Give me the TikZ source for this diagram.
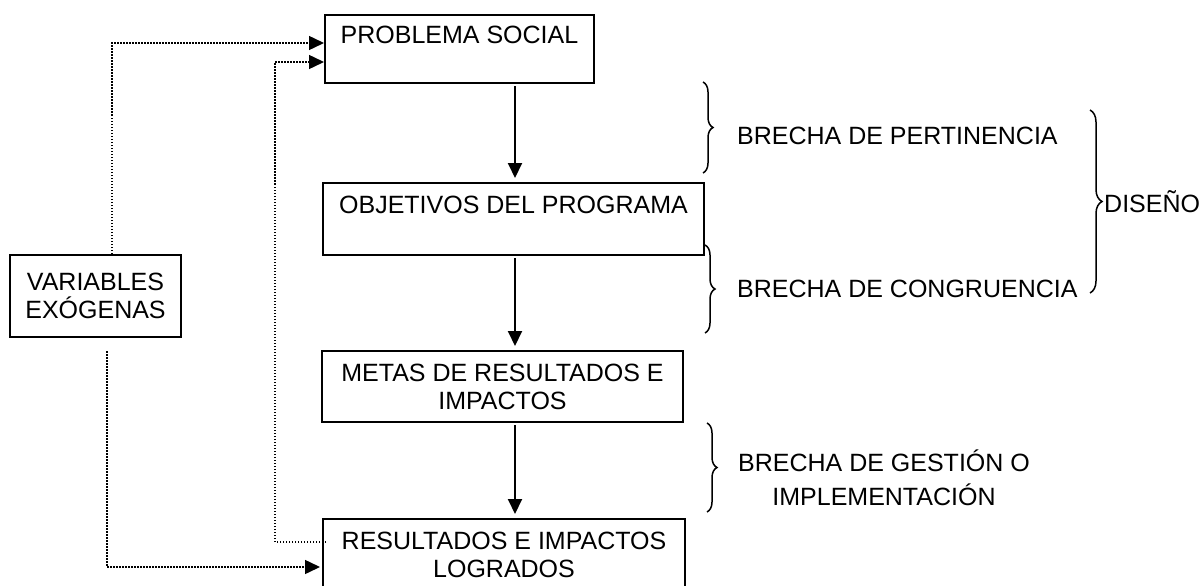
\documentclass[tikz,border=0pt]{standalone}
\usepackage{fontspec}
\setmainfont{Liberation Sans}
\usetikzlibrary{arrows.meta, decorations.pathreplacing, calc}

\begin{document}
\begin{tikzpicture}[x=1pt, y=-1pt, font=\fontsize{25}{28}\selectfont,
	caja/.style={draw, line width=2pt, inner sep=0pt, align=center},
	flecha/.style={line width=2pt, -{Triangle[width=14pt,length=15pt]}, shorten >=4pt, shorten <=2pt},
	punteada/.style={line width=1.5pt, dash pattern=on 1.5pt off 1.5pt, -{Triangle[width=14pt,length=15pt]}},
	llave/.style={line width=1.5pt, decorate, decoration={brace, amplitude=10pt}},
	etiqueta/.style={inner sep=0pt, anchor=base west}]
				  \clip (0,0) rectangle (1202,586);
				  \node[caja, minimum width=269pt, minimum height=68pt] (problema) at (459.5,49) {PROBLEMA SOCIAL\\\mbox{}};
				  \node[caja, minimum width=381pt, minimum height=72pt] (objetivos) at (513.5,219) {OBJETIVOS DEL PROGRAMA\\\mbox{}};
				  \node[caja, minimum width=361pt, minimum height=71pt] (metas) at (502.5,386.5) {METAS DE RESULTADOS E\\IMPACTOS};
				  \node[caja, minimum width=362pt, minimum height=71pt] (logros) at (504,554.5) {RESULTADOS E IMPACTOS\\LOGRADOS};
				  \node[caja, minimum width=171pt, minimum height=82pt] (variables) at (95.5,296) {VARIABLES\\EXÓGENAS};
				  \coordinate (eje) at (515,0);
				  \coordinate (sube) at (112,0);
				  \coordinate (baja) at (107,0);
				  \coordinate (retorno) at (275,300);
				  \draw[flecha] (problema.south -| eje) -- (objetivos.north -| eje);
				  \draw[flecha] (objetivos.south -| eje) -- (metas.north -| eje);
				  \draw[flecha] (metas.south -| eje) -- (logros.north -| eje);
				  \draw[punteada] (variables.north -| sube) |- ($(problema.west)+(0,-6)$);
				  \draw[punteada] ($(logros.west)+(4,-12.5)$) -| (retorno) |- ($(problema.west)+(0,13)$);
				  \draw[punteada, shorten <=13pt] (variables.south -| baja) |- ($(logros.west)+(-2,12.5)$);
				  \coordinate (p1) at (703,82);
				  \coordinate (p2) at (703,173);
				  \coordinate (c1) at (705,245);
				  \coordinate (c2) at (705,333);
				  \coordinate (g1) at (707,423);
				  \coordinate (g2) at (707,512);
				  \coordinate (d1) at (1090,110);
				  \coordinate (d2) at (1090,293);
				  \draw[llave] (p1) -- (p2);
				  \draw[llave] (c1) -- (c2);
				  \draw[llave] (g1) -- (g2);
				  \draw[llave, decoration={amplitude=12pt}] (d1) -- (d2);
				  \node[etiqueta] (pertinencia) at (737,144) {BRECHA DE PERTINENCIA};
				  \node[etiqueta] (congruencia) at (737,297) {BRECHA DE CONGRUENCIA};
				  \node[etiqueta] (diseno) at (1104,212) {DISEÑO};
				  \node[inner sep=0pt, align=center] (gestion) at (884,478) {BRECHA DE GESTIÓN O\\[6pt]IMPLEMENTACIÓN};
				\end{tikzpicture}
\end{document}
